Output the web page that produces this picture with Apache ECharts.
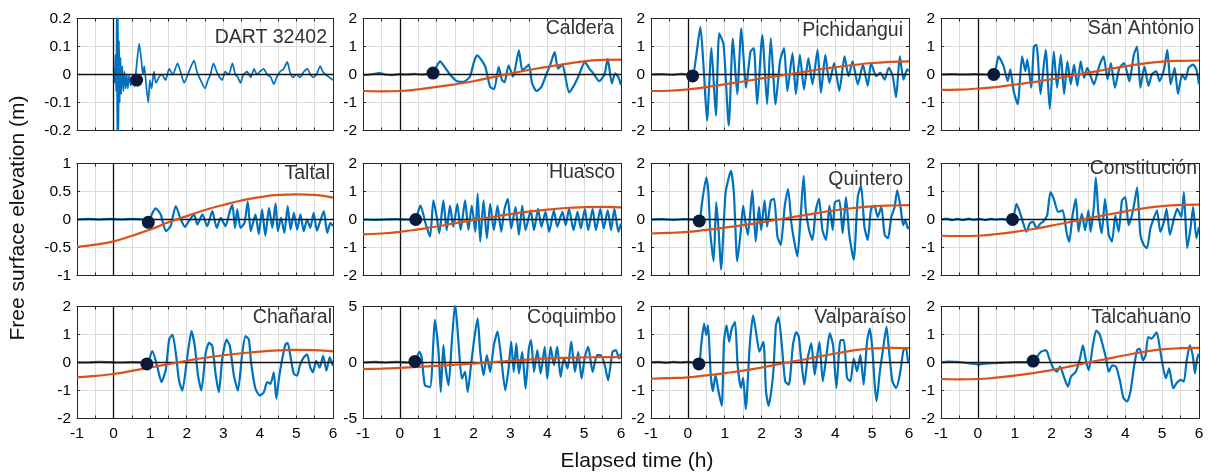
<!DOCTYPE html>
<html><head><meta charset="utf-8">
<script src="https://cdn.jsdelivr.net/npm/echarts@6/dist/echarts.min.js"></script>
<style>html,body{margin:0;padding:0;background:#fff}#c{width:1215px;height:475px}</style>
</head><body><div id="c"></div>
<script>
// ---------------- DATA ----------------
const stationNames = ['DART 32402','Caldera','Pichidangui','San Antonio','Taltal','Huasco','Quintero','Constitución','Chañaral','Coquimbo','Valparaíso','Talcahuano'];
const xTickValues = [-1,0,1,2,3,4,5,6];
const orangeTimes = [-1,-0.5,0,0.5,1,1.5,2,2.5,3,3.5,4,4.5,5,5.5,6];

// blue: observed free surface [time (h), elevation (m)]
const dartBlue = [[0,0.02],[0.03,-0.03],[0.05,0.07],[0.07,-0.06],[0.09,0.25],[0.1,-0.25],[0.12,0.25],[0.13,-0.25],[0.15,0.12],[0.17,-0.1],[0.19,0.06],[0.21,-0.07],[0.24,0.03],[0.27,-0.06],[0.3,0.01],[0.33,-0.05],[0.36,0.0],[0.39,-0.05],[0.43,0.0],[0.47,-0.04],[0.52,-0.01],[0.57,-0.04],[0.62,0.02],[0.7,0.11],[0.76,0.05],[0.8,0.0],[0.84,0.03],[0.9,-0.05],[0.95,-0.1],[0.99,-0.02],[1.04,-0.05],[1.1,0.01],[1.16,-0.03],[1.24,-0.01],[1.32,0.0],[1.42,-0.02],[1.52,0.02],[1.62,0.0],[1.75,0.04],[1.83,0.01],[1.93,-0.03],[2.03,0.0],[2.12,0.03],[2.2,0.05],[2.28,0.01],[2.38,-0.02],[2.5,-0.05],[2.58,-0.02],[2.65,0.0],[2.73,0.04],[2.82,0.01],[2.9,-0.01],[2.97,-0.02],[3.05,0.01],[3.15,0.0],[3.25,0.04],[3.33,0.0],[3.4,-0.01],[3.47,-0.03],[3.55,0.0],[3.65,0.01],[3.75,-0.01],[3.84,0.02],[3.92,0.0],[4.0,0.01],[4.1,0.02],[4.2,0.0],[4.3,-0.01],[4.38,-0.035],[4.46,-0.01],[4.55,0.01],[4.65,0.02],[4.75,0.045],[4.82,0.01],[4.9,-0.01],[5.0,0.0],[5.1,-0.01],[5.2,0.01],[5.3,0.02],[5.38,0.0],[5.46,-0.01],[5.55,0.0],[5.65,0.03],[5.72,0.01],[5.8,0.0],[5.9,-0.01],[6.0,-0.02]];
const calderaBlue = [[-1,-0.02],[-0.8,0.0],[-0.55,0.05],[-0.4,0.0],[-0.2,-0.02],[0,0.01],[0.2,0.0],[0.4,0.02],[0.6,0.0],[0.8,0.03],[0.9,0.05],[1.0,0.3],[1.09,0.47],[1.2,0.3],[1.36,0.0],[1.55,-0.24],[1.73,-0.26],[1.9,-0.08],[2.0,0.4],[2.09,0.68],[2.2,0.54],[2.32,0.27],[2.45,-0.44],[2.56,-0.52],[2.68,0.27],[2.77,-0.2],[2.84,-0.28],[2.95,0.33],[3.07,-0.08],[3.23,0.86],[3.32,0.15],[3.41,0.24],[3.5,0.35],[3.59,-0.32],[3.71,-0.59],[3.84,-0.44],[3.95,-0.08],[4.09,0.39],[4.2,0.8],[4.29,0.21],[4.41,0.35],[4.59,-0.64],[4.73,-0.38],[4.86,-0.02],[5.02,0.45],[5.14,0.21],[5.25,0.04],[5.41,-0.24],[5.55,0.0],[5.64,0.56],[5.75,-0.32],[5.84,0.04],[5.93,-0.1],[6.0,-0.38]];
const pichidanguiBlue = [[-1,0.0],[-0.7,0.01],[-0.4,-0.01],[-0.2,0.02],[0,0.0],[0.13,-0.05],[0.22,0.6],[0.34,1.7],[0.43,0.2],[0.52,-1.65],[0.64,0.94],[0.76,-1.47],[0.85,1.47],[0.97,1.06],[1.11,-1.82],[1.22,1.29],[1.34,-0.7],[1.45,1.65],[1.58,-0.47],[1.7,0.82],[1.79,0.94],[1.88,-1.06],[2.02,1.41],[2.15,-1.06],[2.25,1.29],[2.38,-1.06],[2.5,0.47],[2.61,0.94],[2.7,-0.59],[2.84,0.76],[2.93,-0.7],[3.04,0.7],[3.15,-0.53],[3.27,0.59],[3.38,-0.35],[3.52,0.88],[3.61,-0.65],[3.73,0.7],[3.84,-0.3],[3.97,0.41],[4.11,-0.59],[4.25,0.65],[4.36,-0.06],[4.47,0.47],[4.61,-0.35],[4.75,0.35],[4.88,-0.41],[4.97,0.41],[5.11,-0.06],[5.22,0.06],[5.34,-0.18],[5.45,0.24],[5.56,-0.06],[5.65,-0.82],[5.75,0.65],[5.85,-0.18],[5.95,0.18],[6.0,0.12]];
const sanAntonioBlue = [[-1,0.0],[-0.7,0.01],[-0.4,0.0],[-0.1,0.01],[0.2,0.0],[0.43,0.0],[0.5,0.3],[0.56,0.65],[0.7,0.29],[0.81,-0.24],[0.88,0.18],[0.97,-0.59],[1.08,-1.06],[1.2,0.65],[1.29,0.12],[1.34,0.53],[1.45,-0.47],[1.52,1.0],[1.59,1.06],[1.7,-0.7],[1.84,0.88],[1.95,-1.24],[2.06,0.82],[2.15,-0.47],[2.25,0.7],[2.34,-0.7],[2.43,0.47],[2.52,-0.35],[2.61,0.35],[2.7,-0.41],[2.79,0.47],[2.88,-0.12],[2.97,0.24],[3.06,-0.06],[3.15,-0.35],[3.29,0.29],[3.41,0.65],[3.52,-0.18],[3.61,0.41],[3.72,-0.47],[3.84,0.24],[3.97,0.41],[4.11,-0.24],[4.23,0.7],[4.32,1.0],[4.41,-0.47],[4.52,0.29],[4.63,-0.41],[4.72,0.0],[4.84,0.12],[4.93,-0.24],[5.05,0.18],[5.14,0.88],[5.23,-0.35],[5.34,0.24],[5.43,-0.7],[5.54,0.0],[5.63,-0.18],[5.72,0.24],[5.84,0.35],[5.93,0.18],[6.0,-0.35]];
const taltalBlue = [[-1,0.0],[-0.7,0.01],[-0.4,0.0],[-0.1,0.01],[0.2,0.0],[0.5,0.01],[0.8,0.0],[0.95,-0.05],[1.05,0.1],[1.15,0.2],[1.29,0.09],[1.43,-0.21],[1.56,-0.12],[1.7,0.24],[1.84,0.0],[1.95,-0.13],[2.06,-0.03],[2.2,0.09],[2.29,-0.09],[2.43,0.09],[2.56,-0.12],[2.7,0.15],[2.82,-0.15],[2.93,0.03],[3.06,-0.12],[3.18,0.15],[3.25,0.26],[3.32,-0.15],[3.38,0.18],[3.47,-0.15],[3.58,-0.06],[3.67,0.32],[3.75,-0.21],[3.88,0.09],[3.97,-0.26],[4.06,0.18],[4.15,-0.29],[4.25,0.21],[4.34,-0.15],[4.43,0.29],[4.49,-0.21],[4.58,0.03],[4.67,-0.24],[4.76,0.24],[4.84,-0.18],[4.93,0.12],[5.02,-0.18],[5.11,0.09],[5.2,-0.21],[5.29,0.0],[5.38,-0.15],[5.47,0.12],[5.56,-0.2],[5.65,-0.03],[5.75,0.15],[5.84,-0.24],[5.93,-0.06],[6.0,-0.12]];
const huascoBlue = [[-1,0.0],[-0.7,-0.01],[-0.4,0.0],[-0.1,0.01],[0.2,0.0],[0.43,0.0],[0.5,0.3],[0.56,0.5],[0.71,-0.2],[0.82,-0.61],[0.91,0.68],[1.0,0.1],[1.07,-0.49],[1.18,0.68],[1.27,-0.38],[1.36,0.5],[1.45,-0.26],[1.56,0.56],[1.65,-0.38],[1.77,0.68],[1.86,-0.38],[1.95,0.5],[2.05,-0.44],[2.11,0.92],[2.18,-0.79],[2.27,0.68],[2.36,-0.67],[2.45,0.56],[2.55,-0.38],[2.65,0.5],[2.75,-0.44],[2.84,0.38],[2.93,0.74],[3.02,-0.32],[3.14,0.44],[3.23,-0.55],[3.32,0.5],[3.41,-0.38],[3.55,0.33],[3.64,-0.38],[3.75,0.38],[3.84,-0.26],[3.95,0.27],[4.05,-0.44],[4.18,0.33],[4.27,-0.26],[4.41,0.27],[4.5,-0.2],[4.59,0.38],[4.71,-0.38],[4.82,0.27],[4.91,-0.32],[5.02,0.38],[5.11,-0.38],[5.23,0.38],[5.32,-0.38],[5.44,0.38],[5.53,-0.32],[5.64,0.33],[5.73,-0.38],[5.82,0.38],[5.93,-0.44],[6.0,-0.14]];
const quinteroBlue = [[-1,0.0],[-0.7,0.01],[-0.4,-0.01],[-0.1,0.01],[0.15,0.0],[0.31,-0.05],[0.38,0.56],[0.5,1.5],[0.56,0.92],[0.61,-0.49],[0.7,-1.49],[0.77,0.62],[0.84,-0.49],[0.9,-1.79],[1.02,0.92],[1.11,1.5],[1.17,1.74],[1.25,0.92],[1.34,-1.49],[1.43,-0.49],[1.5,0.5],[1.56,-0.08],[1.63,-0.55],[1.75,1.04],[1.84,-0.79],[1.93,0.45],[1.99,-0.38],[2.08,0.68],[2.15,-0.26],[2.25,0.68],[2.34,0.74],[2.43,-0.61],[2.52,-0.91],[2.63,0.5],[2.72,1.09],[2.81,-0.14],[2.88,-0.73],[2.97,-1.32],[3.06,0.09],[3.14,1.56],[3.2,0.33],[3.29,-0.38],[3.38,-0.73],[3.47,0.33],[3.56,0.74],[3.65,-0.38],[3.75,-0.73],[3.84,0.5],[3.93,-0.38],[3.99,0.62],[4.11,0.68],[4.2,-0.49],[4.29,0.8],[4.38,-0.55],[4.5,-1.44],[4.61,0.8],[4.7,1.21],[4.79,-0.26],[4.88,-0.73],[4.97,0.38],[5.06,0.5],[5.15,0.09],[5.25,0.45],[5.34,-0.55],[5.43,-0.67],[5.52,0.09],[5.61,0.45],[5.68,1.04],[5.77,0.45],[5.84,-0.2],[5.9,-0.02],[5.97,-0.32],[6.0,-0.24]];
const constitucionBlue = [[-1,0.0],[-0.85,0.03],[-0.7,-0.02],[-0.55,0.02],[-0.4,-0.02],[-0.25,0.03],[-0.1,-0.01],[0.05,0.02],[0.2,-0.02],[0.35,0.02],[0.5,0.0],[0.65,0.02],[0.8,-0.01],[0.94,0.0],[1.05,0.56],[1.18,0.09],[1.32,-0.44],[1.41,-0.14],[1.5,-0.08],[1.59,-0.32],[1.7,-0.14],[1.77,-0.08],[1.88,0.15],[1.97,0.98],[2.06,0.74],[2.18,0.27],[2.3,0.33],[2.41,-0.49],[2.48,-0.79],[2.57,0.15],[2.66,0.74],[2.73,-0.44],[2.82,0.21],[2.91,-0.38],[3.0,0.33],[3.06,-0.44],[3.15,0.5],[3.2,1.5],[3.27,0.27],[3.36,-0.49],[3.45,0.74],[3.55,-0.55],[3.64,-0.79],[3.73,0.15],[3.82,-0.44],[3.91,0.68],[4.0,0.8],[4.09,-0.2],[4.18,0.15],[4.25,0.62],[4.32,1.15],[4.41,-0.55],[4.5,-0.91],[4.59,-1.02],[4.68,-0.32],[4.77,0.03],[4.86,0.33],[4.95,-0.44],[5.05,-0.08],[5.12,0.38],[5.21,-0.55],[5.32,0.03],[5.41,0.38],[5.52,0.09],[5.59,0.98],[5.68,-1.02],[5.77,-0.32],[5.84,0.45],[5.93,-0.67],[6.0,-0.26]];
const chanaralBlue = [[-1,0.0],[-0.7,0.0],[-0.4,0.02],[-0.1,0.01],[0.2,0.0],[0.5,0.01],[0.75,0.0],[0.91,-0.05],[1.06,0.41],[1.2,-0.18],[1.31,-0.7],[1.43,-0.24],[1.52,0.82],[1.61,1.0],[1.7,0.35],[1.79,-0.65],[1.88,-1.0],[2.02,0.24],[2.13,1.12],[2.22,0.59],[2.31,-0.47],[2.4,-1.0],[2.52,0.35],[2.61,0.7],[2.7,0.59],[2.79,-0.41],[2.88,-1.06],[2.97,0.12],[3.09,0.82],[3.18,0.59],[3.29,-0.47],[3.4,-1.0],[3.52,0.35],[3.61,0.94],[3.7,0.82],[3.76,0.0],[3.88,-0.94],[4.0,-1.18],[4.11,-1.06],[4.2,-0.7],[4.29,-0.76],[4.38,-0.35],[4.45,-1.29],[4.52,-0.59],[4.61,0.12],[4.7,0.65],[4.76,0.7],[4.85,0.12],[4.93,-0.41],[5.02,-0.47],[5.09,-0.12],[5.2,0.18],[5.29,0.29],[5.38,-0.18],[5.45,-0.35],[5.54,0.06],[5.64,-0.18],[5.73,0.24],[5.82,-0.29],[5.91,0.18],[6.0,-0.12]];
const coquimboBlue = [[-1,0.0],[-0.7,0.05],[-0.4,0.0],[-0.1,0.05],[0.2,0.0],[0.41,0.1],[0.53,0.96],[0.59,0.5],[0.68,-2.04],[0.82,-2.19],[0.91,1.86],[0.95,3.8],[1.05,0.96],[1.11,-2.63],[1.18,1.56],[1.23,-0.24],[1.32,-2.04],[1.41,1.86],[1.5,5.3],[1.59,1.86],[1.68,-1.44],[1.77,-0.84],[1.84,-2.63],[1.93,-0.24],[2.02,2.16],[2.11,3.95],[2.18,0.96],[2.27,-1.14],[2.36,0.66],[2.45,-0.84],[2.55,1.56],[2.65,2.75],[2.75,0.36],[2.86,-2.48],[2.95,-0.54],[3.02,1.86],[3.09,-0.84],[3.16,1.7],[3.23,-0.99],[3.32,0.96],[3.41,-2.33],[3.5,1.26],[3.56,2.0],[3.64,-0.84],[3.73,1.1],[3.82,-0.99],[3.93,1.4],[4.0,-1.44],[4.09,1.4],[4.18,-0.24],[4.27,1.4],[4.36,-1.29],[4.45,0.36],[4.55,-0.54],[4.65,1.86],[4.75,-0.84],[4.84,0.96],[4.93,-1.44],[5.02,0.51],[5.11,1.4],[5.23,-0.84],[5.35,0.66],[5.45,0.66],[5.56,-0.24],[5.65,-1.59],[5.77,0.96],[5.86,1.1],[5.95,0.36],[6.0,0.81]];
const valparaisoBlue = [[-1,0.0],[-0.8,0.02],[-0.6,-0.01],[-0.4,0.02],[-0.2,0.0],[0.0,0.02],[0.15,0.0],[0.3,-0.05],[0.36,0.6],[0.44,1.39],[0.5,0.98],[0.55,1.33],[0.62,-0.44],[0.68,-1.02],[0.75,-0.44],[0.83,-1.02],[0.92,-1.55],[0.98,0.74],[1.05,1.33],[1.12,0.74],[1.19,1.21],[1.28,1.45],[1.35,-0.08],[1.44,-0.91],[1.5,-0.55],[1.57,-1.67],[1.68,0.62],[1.77,1.68],[1.85,1.09],[1.94,0.39],[2.05,0.74],[2.12,-1.02],[2.19,-1.55],[2.25,-1.14],[2.32,-0.32],[2.39,1.33],[2.46,1.62],[2.55,0.62],[2.64,-0.67],[2.74,-0.79],[2.85,0.62],[2.94,1.09],[3.01,0.92],[3.07,0.15],[3.16,-0.79],[3.25,0.15],[3.35,0.68],[3.44,-0.44],[3.5,0.15],[3.57,0.74],[3.66,-0.67],[3.75,0.15],[3.85,1.04],[3.94,0.62],[4.03,-0.91],[4.14,0.8],[4.23,0.8],[4.32,-0.55],[4.41,-0.67],[4.5,0.15],[4.59,-0.32],[4.68,0.27],[4.77,-0.79],[4.86,0.74],[4.94,1.21],[5.01,0.39],[5.07,-0.79],[5.12,-1.38],[5.21,-0.32],[5.3,0.51],[5.39,1.27],[5.46,0.39],[5.55,-0.67],[5.65,-0.91],[5.75,-0.44],[5.85,0.45],[5.92,0.51],[5.98,0.0],[6.0,0.1]];
const talcahuanoBlue = [[-1,0.0],[-0.8,0.03],[-0.6,0.02],[-0.4,0.0],[-0.2,-0.03],[0,-0.07],[0.2,-0.04],[0.4,-0.02],[0.6,-0.01],[0.8,0.0],[1.0,0.01],[1.2,0.01],[1.5,0.05],[1.6,0.2],[1.71,0.38],[1.85,0.44],[1.94,0.14],[2.05,-0.21],[2.14,-0.33],[2.23,-0.15],[2.32,-0.45],[2.44,-0.86],[2.53,-0.5],[2.66,-0.33],[2.77,0.14],[2.85,0.61],[2.94,0.02],[3.01,-0.27],[3.12,0.61],[3.21,1.14],[3.3,1.02],[3.39,0.61],[3.48,0.14],[3.55,-0.33],[3.65,-0.1],[3.75,-0.15],[3.86,-0.68],[3.95,-1.27],[4.05,-1.39],[4.14,-1.04],[4.23,-0.21],[4.32,0.44],[4.39,0.5],[4.48,0.08],[4.55,0.26],[4.62,0.91],[4.71,0.85],[4.85,1.08],[4.94,0.5],[5.03,-0.21],[5.1,-0.56],[5.19,-0.21],[5.3,-0.92],[5.39,-0.74],[5.5,-0.62],[5.59,-0.68],[5.66,0.02],[5.75,0.61],[5.83,0.26],[5.89,-0.39],[5.95,0.14],[6.0,0.32]];

// orange: long-period component, values at orangeTimes
const calderaOrange = [-0.59,-0.6,-0.59,-0.53,-0.44,-0.35,-0.24,-0.1,0.03,0.16,0.27,0.38,0.47,0.52,0.53];
const pichidanguiOrange = [-0.59,-0.58,-0.53,-0.45,-0.35,-0.25,-0.14,-0.04,0.06,0.17,0.26,0.34,0.41,0.45,0.47];
const sanAntonioOrange = [-0.55,-0.54,-0.5,-0.45,-0.36,-0.27,-0.17,-0.05,0.06,0.18,0.29,0.39,0.46,0.49,0.5];
const taltalOrange = [-0.49,-0.45,-0.39,-0.29,-0.18,-0.05,0.06,0.17,0.26,0.34,0.4,0.44,0.45,0.44,0.39];
const huascoOrange = [-0.53,-0.5,-0.44,-0.35,-0.25,-0.13,-0.02,0.09,0.19,0.28,0.35,0.41,0.44,0.45,0.43];
const quinteroOrange = [-0.5,-0.48,-0.44,-0.37,-0.29,-0.2,-0.1,0.01,0.12,0.23,0.33,0.41,0.47,0.5,0.51];
const constitucionOrange = [-0.58,-0.59,-0.58,-0.52,-0.44,-0.34,-0.22,-0.09,0.04,0.17,0.29,0.4,0.48,0.52,0.53];
const chanaralOrange = [-0.53,-0.48,-0.41,-0.3,-0.18,-0.06,0.06,0.17,0.26,0.33,0.39,0.43,0.45,0.44,0.4];
const coquimboOrange = [-0.6,-0.55,-0.48,-0.4,-0.3,-0.2,-0.09,0.03,0.15,0.26,0.36,0.42,0.46,0.48,0.48];
const valparaisoOrange = [-0.58,-0.56,-0.53,-0.46,-0.38,-0.29,-0.18,-0.05,0.07,0.2,0.32,0.43,0.5,0.52,0.51];
const talcahuanoOrange = [-0.59,-0.6,-0.59,-0.54,-0.47,-0.38,-0.27,-0.14,0.0,0.13,0.26,0.38,0.47,0.51,0.52];

// arrival markers [time (h), elevation (m)]
const arrivalDots = [[0.63,-0.02],[0.9,0.05],[0.13,-0.05],[0.43,0.0],[0.95,-0.05],[0.43,0.0],[0.31,-0.05],[0.94,0.0],[0.91,-0.05],[0.41,0.1],[0.3,-0.05],[1.5,0.05]];

// y-axis ranges [min, max, interval]
const yRangeDart = [-0.2,0.2,0.1];
const yRangeTaltal = [-1,1,0.5];
const yRangeCoquimbo = [-5,5,5];
const yRangeStd = [-2,2,1];

const blueSets = [dartBlue,calderaBlue,pichidanguiBlue,sanAntonioBlue,taltalBlue,huascoBlue,quinteroBlue,constitucionBlue,chanaralBlue,coquimboBlue,valparaisoBlue,talcahuanoBlue];
const orangeSets = [null,calderaOrange,pichidanguiOrange,sanAntonioOrange,taltalOrange,huascoOrange,quinteroOrange,constitucionOrange,chanaralOrange,coquimboOrange,valparaisoOrange,talcahuanoOrange];
const yRanges = [yRangeDart,yRangeStd,yRangeStd,yRangeStd,yRangeTaltal,yRangeStd,yRangeStd,yRangeStd,yRangeStd,yRangeCoquimbo,yRangeStd,yRangeStd];

// ---------------- LAYOUT ----------------
const colLeft = [77, 363, 651, 941];
const colWidth = [256, 258, 258, 258];
const rowTop = [18.5, 163.5, 306.5];
const rowHeight = 112;
// station label: [inset from right, baseline below top]
const labelPos = [[6,25.8],[7,16.5],[6,19.2],[5,16.5],[3,17.2],[6,15.8],[6,22.5],[2,11.5],[1,18.2],[5,17.8],[3,18.2],[8,17.8]];

const FONT = "'Liberation Sans', Arial, Helvetica, sans-serif";
const BLUE = '#0072BD', ORANGE = '#D95319', DOT = '#0a1a3a', BOX = '#262626', GRIDC = '#dcdcdc';

const grids = [], xAxes = [], yAxes = [], series = [], graphics = [];
stationNames.forEach((name, i) => {
  const r = Math.floor(i / 4), c = i % 4;
  const yr = yRanges[i];
  grids.push({left: colLeft[c], top: rowTop[r], width: colWidth[c], height: rowHeight});
  const axLine = {show: true, onZero: false, lineStyle: {color: BOX, width: 1}};
  const tick = {show: true, inside: true, length: 3, lineStyle: {color: BOX, width: 1}};
  xAxes.push({gridIndex: i, type: 'value', min: -1, max: 6, interval: 0.5, position: 'bottom',
    axisLine: axLine, axisTick: tick,
    axisLabel: {show: r === 2, color: '#000', fontSize: 15.5, fontFamily: FONT, margin: 7,
      formatter: v => xTickValues.includes(v) ? String(v) : ''},
    splitLine: {show: true, showMinLine: false, showMaxLine: false, lineStyle: {color: GRIDC, width: 1}}});
  xAxes.push({gridIndex: i, type: 'value', min: -1, max: 6, interval: 0.5, position: 'top',
    axisLine: axLine, axisTick: tick, axisLabel: {show: false}, splitLine: {show: false}});
  yAxes.push({gridIndex: i, type: 'value', min: yr[0], max: yr[1], interval: yr[2], position: 'left',
    axisLine: axLine, axisTick: tick,
    axisLabel: {color: '#000', fontSize: 15.5, fontFamily: FONT, margin: 6},
    splitLine: {show: true, showMinLine: false, showMaxLine: false, lineStyle: {color: GRIDC, width: 1}}});
  yAxes.push({gridIndex: i, type: 'value', min: yr[0], max: yr[1], interval: yr[2], position: 'right',
    axisLine: axLine, axisTick: tick, axisLabel: {show: false}, splitLine: {show: false}});
  const xa = 2 * i, ya = 2 * i;
  series.push({type: 'line', xAxisIndex: xa, yAxisIndex: ya, data: blueSets[i], showSymbol: false,
    smooth: 0.2, lineStyle: {color: BLUE, width: i === 0 ? 1.7 : 2.2}, z: 2, silent: true,
    markLine: {silent: true, symbol: ['none', 'none'], label: {show: false}, z: 4,
      lineStyle: {color: '#111', width: 1.3, type: 'solid'},
      data: [{xAxis: 0}, {yAxis: 0}]}});
  if (orangeSets[i]) {
    series.push({type: 'line', xAxisIndex: xa, yAxisIndex: ya,
      data: orangeTimes.map((t, k) => [t, orangeSets[i][k]]), showSymbol: false, smooth: true,
      lineStyle: {color: ORANGE, width: 2.2}, z: 5, silent: true});
  }
  series.push({type: 'scatter', xAxisIndex: xa, yAxisIndex: ya, data: [arrivalDots[i]],
    symbolSize: 13, itemStyle: {color: DOT, opacity: 1}, z: 10, silent: true});
  const lp = labelPos[i];
  graphics.push({type: 'text', x: colLeft[c] + colWidth[c] - lp[0], y: rowTop[r] + lp[1] - 6.8, z: 20,
    style: {text: name, fill: '#333', font: '19.5px ' + FONT, textAlign: 'right', textVerticalAlign: 'middle'}});
});
graphics.push({type: 'text', x: 637, y: 461, style: {text: 'Elapsed time (h)', fill: '#111', font: '21px ' + FONT, textAlign: 'center', textVerticalAlign: 'middle'}});
graphics.push({type: 'text', x: 18, y: 218, rotation: Math.PI / 2, style: {text: 'Free surface elevation (m)', fill: '#111', font: '21px ' + FONT, textAlign: 'center', textVerticalAlign: 'middle'}});

const chart = echarts.init(document.getElementById('c'), null, {renderer: 'canvas'});
chart.setOption({animation: false, backgroundColor: '#fff', grid: grids, xAxis: xAxes, yAxis: yAxes, series: series, graphic: graphics});
</script></body></html>
